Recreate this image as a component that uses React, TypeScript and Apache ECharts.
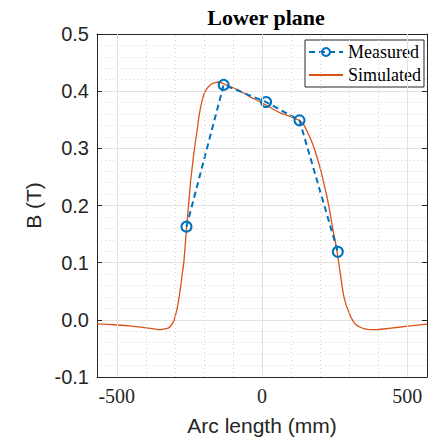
import React, { useEffect, useRef } from "react";
import * as echarts from "echarts";

// Measured field samples (mm, T)
const measX = [-260, -132, 14, 129, 261];
const measY = [0.163, 0.411, 0.381, 0.349, 0.119];

// Simulated field profile along the arc (mm, T)
const simX = [
  -568, -500, -450, -400, -370, -350, -335, -321, -312, -304, -298, -292, -286, -281, -275,
  -269, -260, -252, -246, -240, -235, -229, -223, -218, -212, -206, -201, -195, -189, -180,
  -172, -160, -149, -140, -132, -110, -86, -60, -41, -20, 0, 20, 40, 63, 80, 97, 115, 132,
  145, 155, 166, 177, 186, 195, 204, 212, 219, 225, 235, 244, 252, 258, 263, 272, 280, 289,
  298, 306, 315, 325, 338, 355, 372, 395, 418, 470, 520, 568,
];
const simY = [
  -0.007, -0.009, -0.011, -0.014, -0.016, -0.017, -0.016, -0.014, -0.009, -0.003, 0.008,
  0.02, 0.037, 0.055, 0.078, 0.101, 0.158, 0.205, 0.241, 0.268, 0.29, 0.312, 0.333, 0.352,
  0.37, 0.384, 0.393, 0.4, 0.405, 0.41, 0.413, 0.415, 0.416, 0.415, 0.413, 0.408, 0.403,
  0.396, 0.39, 0.385, 0.379, 0.374, 0.368, 0.362, 0.359, 0.356, 0.352, 0.348, 0.34, 0.33,
  0.318, 0.304, 0.29, 0.275, 0.258, 0.241, 0.226, 0.212, 0.185, 0.158, 0.138, 0.12, 0.104,
  0.072, 0.045, 0.027, 0.015, 0.005, -0.003, -0.009, -0.013, -0.016, -0.017, -0.017, -0.016,
  -0.013, -0.01, -0.0075,
];

// Axis extents and labelled ticks
const xRange = [-568, 568];
const xTicks = [-500, 0, 500];
const xMinorGrid = [-400, -300, -200, -100, 100, 200, 300, 400];
const yRange = [-0.1, 0.5];
const yStep = 0.1;

const INK = "#262626";
const BLUE = "#0072BD";
const ORANGE = "#D95319";
const SANS = "'Liberation Sans', Arial, sans-serif";
const SERIF = "'Liberation Serif', 'Times New Roman', serif";

export default function App() {
  const ref = useRef<HTMLDivElement>(null);

  useEffect(() => {
    if (!ref.current) return;
    const chart = echarts.init(ref.current, null, { renderer: "svg" });

    const gridLines = [
      ...xTicks.map((v) => ({
        xAxis: v,
        lineStyle: { type: "solid", color: "#e2e2e2", width: 1 },
      })),
      ...xMinorGrid.map((v) => ({
        xAxis: v,
        lineStyle: { type: [1, 3], color: "#d4d4d4", width: 1 },
      })),
    ];

    const frameX = {
      type: "value",
      min: xRange[0],
      max: xRange[1],
      axisLine: { show: true, onZero: false, lineStyle: { color: INK, width: 1 } },
      axisTick: { show: true, inside: true, length: 5, customValues: xTicks, lineStyle: { color: INK } },
      splitLine: { show: false },
    };
    const frameY = {
      type: "value",
      min: yRange[0],
      max: yRange[1],
      interval: yStep,
      axisLine: { show: true, onZero: false, lineStyle: { color: INK, width: 1 } },
      axisTick: { show: true, inside: true, length: 5, lineStyle: { color: INK } },
    };

    chart.setOption({
      animation: false,
      backgroundColor: "#ffffff",
      title: {
        text: "Lower plane",
        left: 261,
        top: 1,
        textAlign: "center",
        textStyle: { fontFamily: SERIF, fontWeight: "bold", fontSize: 22, color: "#000" },
      },
      legend: {
        data: [
          {
            name: "Measured",
            itemStyle: { color: "transparent", borderColor: BLUE, borderWidth: 2 },
          },
          { name: "Simulated", itemStyle: { opacity: 0 } },
        ],
        orient: "vertical",
        left: 305,
        top: 40,
        padding: [3, 3, 3, 3],
        itemGap: 5,
        itemWidth: 34,
        itemHeight: 10,
        backgroundColor: "#ffffff",
        borderColor: INK,
        borderWidth: 1,
        borderRadius: 0,
        textStyle: { fontFamily: SERIF, fontSize: 18, color: "#000" },
      },
      grid: { left: 97, top: 34, right: 19, bottom: 62 },
      xAxis: [
        {
          ...frameX,
          position: "bottom",
          name: "Arc length (mm)",
          nameLocation: "middle",
          nameGap: 38,
          nameTextStyle: { fontFamily: SANS, fontSize: 21, color: INK },
          axisLabel: {
            show: true,
            customValues: xTicks,
            margin: 9,
            fontFamily: SERIF,
            fontSize: 20,
            color: INK,
          },
        },
        {
          ...frameX,
          position: "top",
          axisLabel: { show: false, customValues: xTicks },
        },
      ],
      yAxis: [
        {
          ...frameY,
          position: "left",
          name: "B (T)",
          nameLocation: "middle",
          nameGap: 52,
          nameTextStyle: { fontFamily: SANS, fontSize: 21, color: INK },
          axisLabel: {
            margin: 8,
            fontFamily: SANS,
            fontSize: 20,
            color: INK,
            formatter: (v: number) => v.toFixed(1),
          },
          splitLine: { show: true, lineStyle: { color: "#e2e2e2", width: 1 } },
          minorTick: { show: false, splitNumber: 5 },
          minorSplitLine: { show: true, lineStyle: { color: "#d4d4d4", type: [1, 3], width: 1 } },
        },
        {
          ...frameY,
          position: "right",
          axisLabel: { show: false },
          splitLine: { show: false },
        },
      ],
      series: [
        {
          name: "grid",
          type: "line",
          xAxisIndex: 0,
          yAxisIndex: 0,
          z: 1,
          data: [[0, 0]],
          symbol: "none",
          lineStyle: { width: 0, opacity: 0 },
          silent: true,
          markLine: {
            silent: true,
            symbol: ["none", "none"],
            label: { show: false },
            animation: false,
            data: gridLines,
          },
        },
        {
          name: "Simulated",
          type: "line",
          xAxisIndex: 0,
          yAxisIndex: 0,
          z: 3,
          data: simX.map((x, i) => [x, simY[i]]),
          symbol: "none",
          smooth: 0.2,
          color: ORANGE,
          lineStyle: { color: ORANGE, width: 1.3 },
        },
        {
          name: "Measured",
          type: "line",
          xAxisIndex: 0,
          yAxisIndex: 0,
          z: 4,
          data: measX.map((x, i) => [x, measY[i]]),
          symbol: "circle",
          symbolSize: 10,
          color: BLUE,
          lineStyle: { color: BLUE, width: 2, type: [6, 4] },
          itemStyle: { color: "transparent", borderColor: BLUE, borderWidth: 2 },
        },
      ],
    });

    return () => chart.dispose();
  }, []);

  return (
    <div
      ref={ref}
      style={{ position: "fixed", left: 0, top: 0, width: 446, height: 441, background: "#fff" }}
    />
  );
}
